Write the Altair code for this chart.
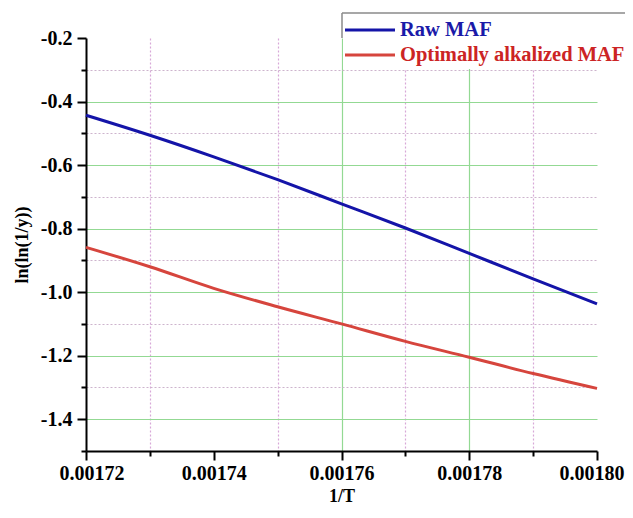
import altair as alt
import pandas as pd

# ---- data ----
inv_T = [0.00172, 0.00173, 0.00174, 0.00175, 0.00176, 0.00177, 0.00178, 0.00179, 0.00180]
raw_maf = [-0.443, -0.506, -0.574, -0.646, -0.722, -0.798, -0.878, -0.958, -1.037]
alk_maf = [-0.859, -0.920, -0.988, -1.046, -1.100, -1.155, -1.205, -1.256, -1.303]
series_names = ["Raw MAF", "Optimally alkalized MAF"]
line_colors = ["#1414a8", "#d6453d"]
text_colors = ["#1a1aa8", "#cc2424"]
x_ticks = [0.00172, 0.00173, 0.00174, 0.00175, 0.00176, 0.00177, 0.00178, 0.00179, 0.00180]
y_ticks = [-1.5, -1.4, -1.3, -1.2, -1.1, -1.0, -0.9, -0.8, -0.7, -0.6, -0.5, -0.4, -0.3, -0.2]

df = pd.DataFrame({
    "x": inv_T + inv_T,
    "y": raw_maf + alk_maf,
    "series": [series_names[0]] * len(inv_T) + [series_names[1]] * len(inv_T),
})

FONT = "Liberation Serif"
GREEN = "#93d993"
PINK = "#d8a8d8"
PINK_H = "#cdb4cd"

x_major = "round(datum.value*100000) % 2 == 0"
y_major = "abs(round(datum.value*10)) % 2 == 0"

x_axis = alt.Axis(
    values=x_ticks,
    title="1/T",
    labelExpr=f"{x_major} ? format(datum.value, '.5f') : ''",
    labelOverlap=False,
    labelFlush=True,
    labelFlushOffset=27,
    labelFont=FONT, labelFontWeight="bold", labelFontSize=20, labelColor="black",
    labelPadding=3,
    titleFont=FONT, titleFontWeight="bold", titleFontSize=18, titleColor="black",
    titleX=255.5, titleY=45, titleBaseline="middle",
    domainColor="black", domainWidth=2,
    tickColor="black", tickWidth=2,
    tickSize={"condition": {"test": x_major, "value": 9}, "value": 5},
    grid=True,
    gridColor={"condition": {"test": x_major, "value": GREEN}, "value": PINK},
    gridDash={"condition": {"test": x_major, "value": []}, "value": [2, 2]},
    gridWidth=1.2,
    gridOpacity={"condition": {"test": "round(datum.value*100000) == 172 || round(datum.value*100000) == 174 || round(datum.value*100000) == 180", "value": 0}, "value": 1},
)

y_axis = alt.Axis(
    values=y_ticks,
    title="ln(ln(1/y))",
    labelExpr=f"{y_major} ? (datum.value < 0 ? '-' : '') + format(abs(datum.value), '.1f') : ''",
    labelOverlap=False,
    labelFont=FONT, labelFontWeight="bold", labelFontSize=20, labelColor="black",
    labelPadding=5,
    titleFont=FONT, titleFontWeight="bold", titleFontSize=18, titleColor="black",
    titleX=-64, titleY=206.5, titleAngle=270, titleBaseline="middle", titleAlign="center",
    domainColor="black", domainWidth=2,
    tickColor="black", tickWidth=2,
    tickSize={"condition": {"test": y_major, "value": 9}, "value": 5},
    grid=True,
    gridColor={"condition": {"test": y_major, "value": GREEN}, "value": PINK_H},
    gridDash={"condition": {"test": y_major, "value": []}, "value": [2, 2]},
    gridWidth=1.2,
    gridOpacity={"condition": {"test": "round(datum.value*10) == -2 || round(datum.value*10) == -15", "value": 0}, "value": 1},
)

lines = alt.Chart(df).mark_line(strokeWidth=3, interpolate="monotone").encode(
    x=alt.X("x:Q", scale=alt.Scale(domain=[0.00172, 0.00180], nice=False, zero=False), axis=x_axis),
    y=alt.Y("y:Q", scale=alt.Scale(domain=[-1.5, -0.2], nice=False, zero=False), axis=y_axis),
    color=alt.Color("series:N", scale=alt.Scale(domain=series_names, range=line_colors), legend=None),
)

one = pd.DataFrame({"a": [0]})

legend_bg = alt.Chart(one).mark_rect(fill="white").encode(
    x=alt.value(257), x2=alt.value(600), y=alt.value(-25), y2=alt.value(31)
)
legend_top = alt.Chart(one).mark_rule(color="#8a8a8a", strokeWidth=1.5).encode(
    x=alt.value(256), x2=alt.value(600), y=alt.value(-25)
)
legend_left = alt.Chart(one).mark_rule(color="#8a8a8a", strokeWidth=1.5).encode(
    x=alt.value(256), y=alt.value(-25), y2=alt.value(0)
)

entries = []
for i, yy in enumerate([-8, 17]):
    entries.append(
        alt.Chart(one).mark_rule(color=line_colors[i], strokeWidth=3).encode(
            x=alt.value(259), x2=alt.value(309), y=alt.value(yy)
        )
    )
    entries.append(
        alt.Chart(one).mark_text(
            align="left", baseline="middle", font=FONT, fontWeight="bold",
            fontSize=20.5, color=text_colors[i]
        ).encode(x=alt.value(314), y=alt.value(yy), text=alt.value(series_names[i]))
    )

chart = alt.layer(lines, legend_bg, legend_top, legend_left, *entries).properties(
    width=511,
    height=413,
    autosize=alt.AutoSizeParams(type="none"),
    padding={"left": 78, "top": 30, "right": 28, "bottom": 54},
    background="white",
).configure_view(stroke=None)

chart.save("out.html", embed_options={"renderer": "svg", "actions": False})
